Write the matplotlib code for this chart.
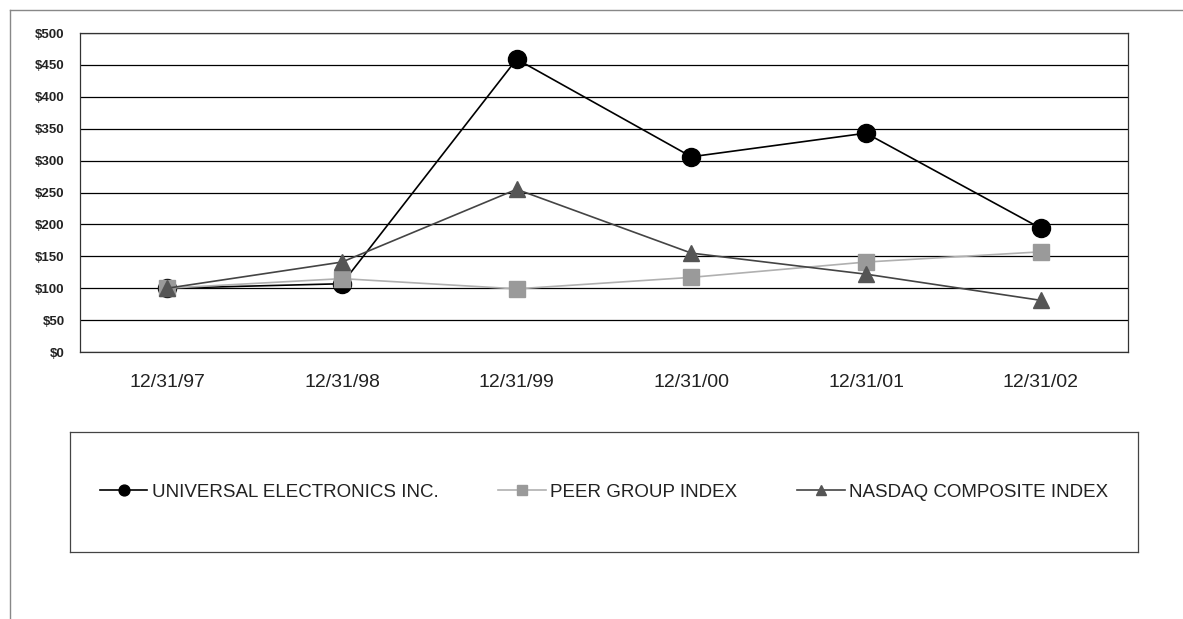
import matplotlib.pyplot as plt
from matplotlib.lines import Line2D

plt.rcParams["font.family"] = ["Liberation Sans", "DejaVu Sans"]

# data
dates = ["12/31/97", "12/31/98", "12/31/99", "12/31/00", "12/31/01", "12/31/02"]
universal = [100, 107, 459, 306, 343, 194]
peer_group = [100, 115, 99, 117, 141, 157]
nasdaq = [100, 141, 255, 155, 122, 81]
y_ticks = [0, 50, 100, 150, 200, 250, 300, 350, 400, 450, 500]

W, H = 1183, 619
fig = plt.figure(figsize=(W / 100, H / 100), dpi=100)

# main plot area
ax = fig.add_axes([80 / W, 1 - 352 / H, (1128 - 80) / W, (352 - 33) / H])
x = [i + 0.5 for i in range(len(dates))]

l1, = ax.plot(x, universal, color="black", lw=1.2, marker="o", ms=13,
              mfc="black", mec="black", zorder=4, label="UNIVERSAL ELECTRONICS INC.")
l2, = ax.plot(x, peer_group, color="#b0b0b0", lw=1.2, marker="s", ms=12,
              mfc="#9a9a9a", mec="#9a9a9a", zorder=5, label="PEER GROUP INDEX")
l3, = ax.plot(x, nasdaq, color="#444444", lw=1.2, marker="^", ms=12,
              mfc="#555555", mec="#555555", zorder=6, label="NASDAQ COMPOSITE INDEX")

ax.set_xlim(0, len(dates))
ax.set_ylim(0, 500)
ax.set_yticks(y_ticks)
ax.set_yticklabels([f"${v}" for v in y_ticks], fontsize=9.5, fontweight="bold",
                   color="#222222")
ax.set_xticks(x)
ax.set_xticklabels(dates, fontsize=14, color="#222222")
ax.tick_params(axis="both", length=0)
ax.tick_params(axis="x", pad=16)
ax.tick_params(axis="y", pad=11)
ax.yaxis.grid(True, color="black", lw=0.9)
ax.set_axisbelow(True)
for s in ax.spines.values():
    s.set_color("#333333")
    s.set_linewidth(0.9)

# legend box
lax = fig.add_axes([70 / W, 1 - 552 / H, (1138 - 70) / W, (552 - 432) / H])
lax.set_xticks([])
lax.set_yticks([])
for s in lax.spines.values():
    s.set_color("#444444")
    s.set_linewidth(0.9)
lax.legend(handles=[l1, l2, l3], loc="center", ncol=3, frameon=False,
           fontsize=13.5, handlelength=2.55, handletextpad=0.22,
           columnspacing=3.2, markerscale=0.6, labelcolor="#222222",
           bbox_to_anchor=(0.5, 0.5), borderaxespad=0)

# outer page frame
fig.add_artist(Line2D([10 / W, 1], [1 - 10 / H, 1 - 10 / H], color="#888888", lw=1))
fig.add_artist(Line2D([10 / W, 10 / W], [0, 1 - 10 / H], color="#888888", lw=1))

fig.savefig("out.png", dpi=100)
